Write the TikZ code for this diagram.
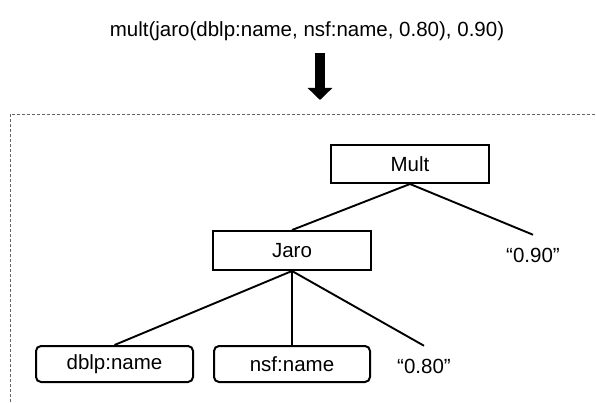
\documentclass[tikz,border=0pt]{standalone}
\usepackage{fontspec}
\setmainfont{Liberation Sans}
\usetikzlibrary{arrows.meta, positioning}

\tikzset{
  opbox/.style={draw, line width=2pt, minimum width=158pt, minimum height=38pt, inner sep=0pt},
  argbox/.style={draw, line width=2pt, rounded corners=5pt, minimum width=157pt, minimum height=36pt, inner sep=0pt},
  constval/.style={inner sep=2pt, outer sep=11pt},
  treeedge/.style={line width=1.9pt}
}

\begin{document}
\begin{tikzpicture}[x=1pt, y=1pt, font=\fontsize{20.5}{24}\selectfont]
\useasboundingbox (0,0) rectangle (596,402);

% the expression, and the big arrow down to its tree
\node (expr) at (307,371) {mult(jaro(dblp:name, nsf:name, 0.80), 0.90)};
\coordinate (arrtop) at (320,349);
\coordinate (arrbot) at (320,302);
\draw[line width=10pt, -{Triangle[width=24pt,length=12pt]}] (arrtop) -- (arrbot);

% frame round the tree (runs off the page)
\coordinate (framebot) at (10,0);
\coordinate (frameright) at (596,288);
\draw[black!60, line width=0.9pt, dash pattern=on 3pt off 2pt] (framebot) |- (frameright);

% operators
\node[opbox] (mult) at (410,238) {Mult};
\node[opbox, minimum height=39pt] (jaro) at (292,151.5) {Jaro};

% arguments
\node[argbox] (dblp) at (114.5,38) {dblp:name};
\node[argbox, minimum width=156pt] (nsf) at (292,38) {nsf:name};
\node[constval] (c80) at (424,36) {“0.80”};
\node[constval] (c90) at (533,147) {“0.90”};

\draw[treeedge] (mult.south) -- (jaro.north);
\draw[treeedge] (mult.south) -- (c90.north);
\draw[treeedge] (jaro.south) -- (dblp.north);
\draw[treeedge] (jaro.south) -- (nsf.north);
\draw[treeedge] (jaro.south) -- (c80.north);

\end{tikzpicture}
\end{document}
